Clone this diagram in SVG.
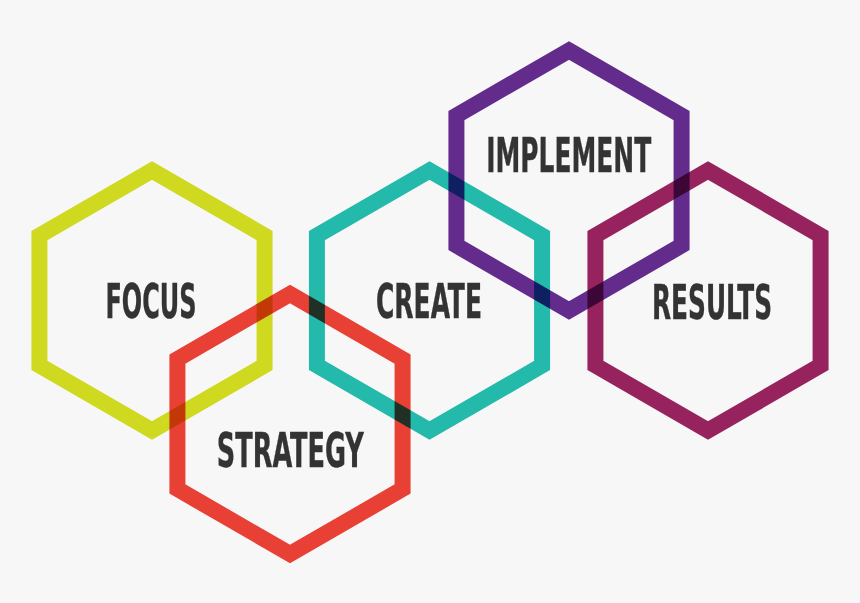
<svg xmlns="http://www.w3.org/2000/svg" width="860" height="603" viewBox="0 0 860 603">
  <defs>
    <style>
      .hex { fill: none; stroke-width: 16; stroke-linejoin: miter; mix-blend-mode: multiply; }
      .focus { stroke: #d6e021; }
      .strategy { stroke: #f04236; }
      .create { stroke: #24bfb1; }
      .implement { stroke: #652c91; }
      .results { stroke: #9c2461; }
      .label { font-family: "DejaVu Sans", "Liberation Sans", sans-serif; font-stretch: condensed; font-weight: bold; font-size: 47.5px; fill: #333333; stroke: #333333; stroke-width: 0.4; text-anchor: middle; }
    </style>
    <polygon id="hexshape" points="0,-130 112.58,-65 112.58,65 0,130 -112.58,65 -112.58,-65"/>
  </defs>
  <rect x="0" y="0" width="860" height="603" fill="#f7f7f7"/>
  <g id="connectors"></g>
  <g id="node-focus">
    <use href="#hexshape" class="hex focus" transform="translate(152,300.5)"/>
    <text class="label" x="151" y="318" textLength="91" lengthAdjust="spacingAndGlyphs">FOCUS</text>
  </g>
  <g id="node-strategy">
    <use href="#hexshape" class="hex strategy" transform="translate(290,424)"/>
    <text class="label" x="290.3" y="467" textLength="147" lengthAdjust="spacingAndGlyphs">STRATEGY</text>
  </g>
  <g id="node-create">
    <use href="#hexshape" class="hex create" transform="translate(429.5,300.5)"/>
    <text class="label" x="429" y="317.5" textLength="106" lengthAdjust="spacingAndGlyphs">CREATE</text>
  </g>
  <g id="node-implement">
    <use href="#hexshape" class="hex implement" transform="translate(569,180.5)"/>
    <text class="label" x="568.7" y="171.5" textLength="165" lengthAdjust="spacingAndGlyphs">IMPLEMENT</text>
  </g>
  <g id="node-results">
    <use href="#hexshape" class="hex results" transform="translate(708,300.5)"/>
    <text class="label" x="712" y="318.5" textLength="120" lengthAdjust="spacingAndGlyphs">RESULTS</text>
  </g>
</svg>
